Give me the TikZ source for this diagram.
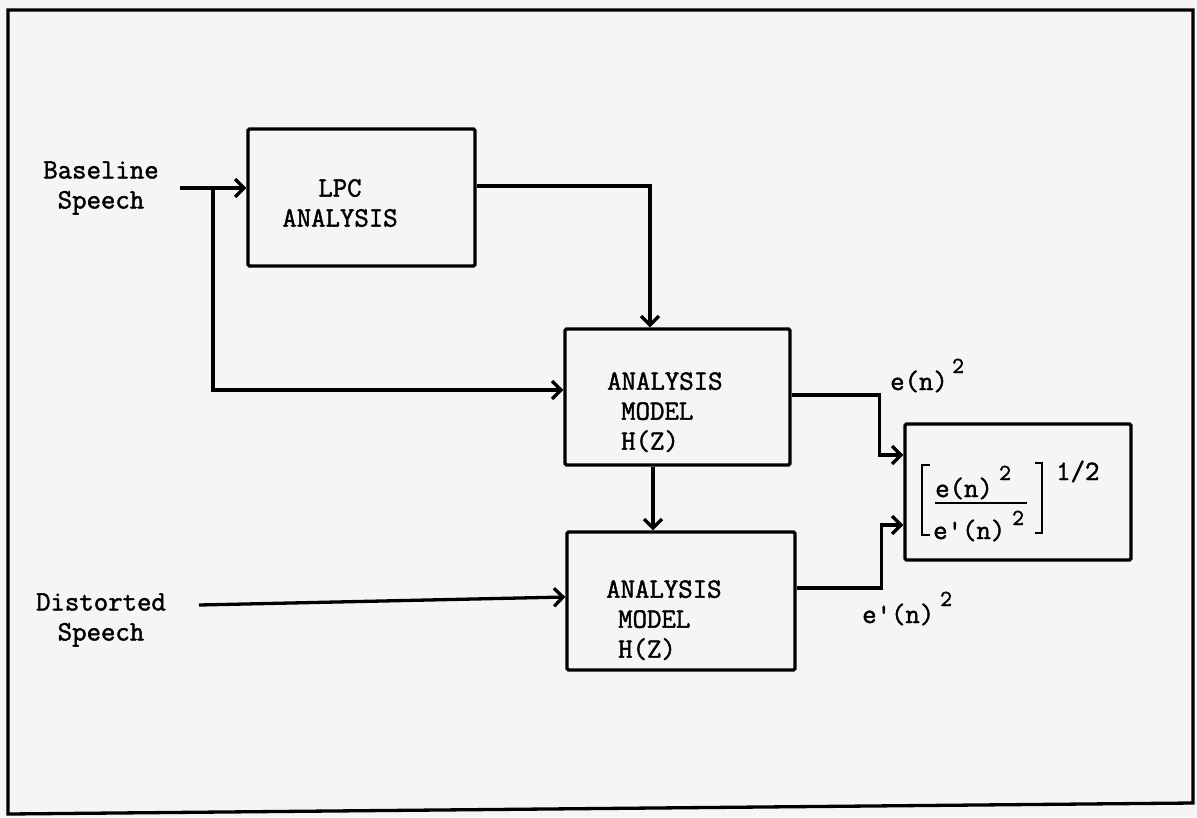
\documentclass[tikz,border=0pt]{standalone}
\usepackage{fontspec}
\newfontfamily\typew[FakeBold=1.6]{Latin Modern Mono}
\usetikzlibrary{arrows.meta}
\begin{document}
\begin{tikzpicture}[x=1pt,y=-1pt,
  every node/.style={font=\fontsize{28}{30}\selectfont\typew, inner sep=0pt},
  blk/.style={draw, line width=3.3pt, rounded corners=1.5pt, inner sep=0pt},
  ln/.style={line width=3.3pt},
  brk/.style={line width=2.3pt},
  conn/.style={line width=3.3pt, -{Straight Barb[length=9pt,width=18pt]}},
  sup/.style={font=\fontsize{23}{23}\selectfont\typew, anchor=base west}]
\fill[white!96!black] (0,0) rectangle (1197,817);
\useasboundingbox (0,0) rectangle (1197,817);
% frame
\draw[ln] (8,10) -- (1193,10) -- (1193,803) -- (8,814) -- cycle;

% boxes
\node[blk, minimum width=227pt, minimum height=137pt] (lpc) at (361.5,197.5) {};
\node[blk, minimum width=225pt, minimum height=136pt] (m1) at (677.5,397) {};
\node[blk, minimum width=228pt, minimum height=138pt] (m2) at (681,601) {};
\node[blk, minimum width=226pt, minimum height=136pt] (fb) at (1018,492) {};

% box texts
\node[align=center] (lpct) at (340,203) {LPC\\ANALYSIS};
\node[align=left, anchor=north west] (m1t) at (607,372) {ANALYSIS\\\hspace*{14pt}MODEL\\\hspace*{14pt}H(Z)};
\node[align=left, anchor=north west] (m2t) at (606,580) {ANALYSIS\\\hspace*{12pt}MODEL\\\hspace*{12pt}H(Z)};

% inputs
\node[align=center] (bs) at (101,188) {Baseline\\Speech};
\node[align=center] (ds) at (101,620) {Distorted\\Speech};
\coordinate (bsout) at (180,188);
\coordinate (split) at (213,188);
\coordinate (dsout) at (199,605);

% connectors
\draw[conn] (bsout) -- (lpc.west |- bsout);
\draw[conn] (split) |- ([yshift=7pt]m1.west);
\draw[conn] ([yshift=11.5pt]lpc.east) -| ([xshift=-27.5pt]m1.north);
\draw[conn] ([xshift=-24.5pt]m1.south) -- ([xshift=-24.5pt]m1.south |- m2.north);
\draw[conn] (dsout) -- ([yshift=4pt]m2.west);
\draw[conn] ([yshift=2pt]m1.east) -- ++(88,0) |- ([yshift=37pt]fb.west);
\draw[conn] ([yshift=13pt]m2.east) -- ++(85,0) |- ([yshift=-33pt]fb.west);

% labels
\node[anchor=base west] (en) at (890,390) {e(n)};
\node[sup] (en2) at (952,373) {2};
\node[anchor=base west] (epn) at (862,623) {e'(n)};
\node[sup] (epn2) at (940,606) {2};

% formula
\draw[brk] (930,465) -- (922,465) -- (922,535) -- (930,535);
\draw[brk] (1035,463) -- (1042,463) -- (1042,533) -- (1035,533);
\draw[brk] (935,503) -- (1027,503);
\node[anchor=base west] (num) at (935,497) {e(n)};
\node[sup] (num2) at (999,480) {2};
\node[anchor=base west] (den) at (933,539) {e'(n)};
\node[sup] (den2) at (1012,525) {2};
\node[anchor=base west] (half) at (1056,480) {1/2};
\end{tikzpicture}
\end{document}
